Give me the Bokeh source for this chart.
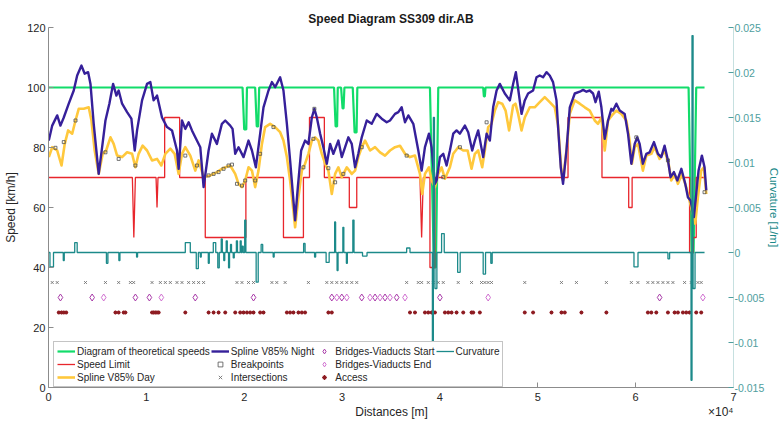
import numpy as np
from bokeh.plotting import figure
from bokeh.models import (Range1d, LinearAxis, FixedTicker, CustomJSTickFormatter,
                          Legend, LegendItem, Title)
from bokeh.embed import file_html
from bokeh.resources import INLINE

# ---------------- data (distances in metres, speeds in km/h) ----------------
night_x = [30, 380, 890, 1220, 1560, 2070, 2580, 2930, 3370, 3700, 4050, 4290, 4620, 5130, 5480, 5820,
           6220, 6600, 6940, 7170, 7520, 8030, 8470, 8810, 9050, 9560, 10070, 10410, 10740, 11090, 11600,
           12110, 12620, 13130, 13300, 13640, 13980, 14320, 14660, 15000, 15510, 15850, 16360, 16700, 17210,
           17720, 18060, 18570, 18810, 19080, 19420, 19930, 20440, 20790, 21190, 21630, 21970, 22480, 22830,
           23160, 23670, 24010, 24360, 24690, 25030, 25200, 25480, 25820, 26220, 26560, 26910, 27170, 27420,
           27760, 28090, 28440, 28780, 29110, 29620, 29970, 30310, 30640, 30990, 31330, 31660, 32010, 32520,
           33030, 33540, 34050, 34560, 34900, 35410, 35750, 36090, 36430, 36770, 37280, 37790, 38130, 38470,
           38880, 39150, 39490, 39660, 40000, 40340, 40680, 41020, 41360, 41700, 42040, 42550, 42890, 43300,
           43570, 43910, 44420, 44770, 45100, 45440, 45790, 46120, 46630, 47140, 47480, 47760, 48060, 48340,
           48670, 49010, 49520, 49870, 50200, 50540, 50890, 51220, 51560, 51910, 52070, 52350, 52580, 52930,
           53270, 53780, 54290, 54630, 54970, 55310, 55650, 55900, 56230, 56500, 56840, 57180, 57520, 57690,
           58030, 58370, 58880, 59220, 59560, 59900, 60170, 60410, 60740, 61090, 61430, 61870, 62280, 62620,
           62960, 63300, 63570, 63910, 64260, 64670, 65070, 65340, 65610, 65950, 66190, 66430, 66770, 67040,
           67220]
night_v = [82.3, 87.3, 90.7, 87.3, 90, 94.6, 99, 104, 107.3, 104.6, 105.1, 101.2, 87.9, 71.2, 80.1, 89,
           94.6, 101.2, 97.3, 99, 94.6, 91.8, 89.6, 79, 85.7, 95.7, 101.2, 101.8, 95.7, 97.3, 90,
           86.8, 85.7, 79, 72.9, 89, 86.2, 88.4, 85.7, 83.4, 80.1, 66.8, 79, 84.6, 81.2,
           87.9, 89, 87.3, 86.2, 77.9, 80.1, 76.8, 82.3, 79, 73.4, 84.6, 93.4, 99, 101.8,
           100.1, 103.4, 99, 87.9, 75.7, 62.3, 55.7, 66.8, 79, 82.3, 81.2, 90, 92.9, 90,
           84.6, 80.1, 74.6, 81.2, 77.9, 82.3, 76.8, 80.1, 83.4, 81.2, 73.4, 77.9, 83.4, 89,
           87.9, 91.2, 89.6, 88.4, 89, 91.2, 91.8, 93.4, 88.4, 90.7, 87.9, 79, 72.3, 80.1,
           84.6, 80.1, 67.9, 69, 76.8, 77.9, 74, 79, 84.6, 85.7, 84.6, 87.3, 85.1, 79,
           82.3, 85.7, 76.8, 84.6, 82.3, 93.4, 99, 101.2, 98, 95.7, 101.2, 105.1, 98, 91.2,
           95.7, 98, 99, 103.4, 104, 103.4, 105.1, 104, 101.8, 95.7, 87, 73.4, 67.9, 79,
           93.4, 98, 98.6, 99.2, 98.6, 99, 98, 95.1, 98.6, 93.4, 82.9, 89, 92.9, 92.3,
           94.6, 92.3, 91.2, 84.6, 74.6, 81.2, 83.4, 81.2, 74.6, 77.9, 78.4, 81.8, 77.9, 76.8,
           80.6, 75.7, 70.1, 71.8, 69, 72.9, 67.9, 63.4, 62.3, 56.8, 64.5, 72.3, 77.3, 73.4,
           65.7]

day_x = [30, 380, 890, 1330, 1660, 2010, 2420, 2760, 3090, 3600, 4110, 4390, 4720, 5130, 5540, 5890,
         6330, 6660, 7010, 7520, 8030, 8540, 8880, 9210, 9620, 10070, 10580, 11090, 11530, 11940, 12450,
         12890, 13300, 13640, 13980, 14490, 15000, 15340, 15850, 16530, 17210, 17720, 18570, 19080, 19420,
         19770, 20100, 20440, 20790, 21120, 21460, 21810, 22140, 22650, 23160, 23670, 24010, 24360, 24690,
         25030, 25200, 25540, 25890, 26220, 26560, 26910, 27250, 27580, 27930, 28270, 28600, 28950, 29290,
         29620, 29970, 30480, 30990, 31330, 31660, 32010, 32350, 32860, 33370, 33880, 34390, 34900, 35410,
         35920, 36430, 36940, 37450, 37960, 38190, 38470, 38880, 39150, 39490, 39830, 40170, 40510, 41020,
         41360, 41870, 42380, 42830, 43230, 43570, 43910, 44320, 44590, 44930, 45270, 45610, 45950, 46360,
         46710, 47070, 47480, 47720, 47990, 48340, 48670, 49180, 49690, 50200, 50710, 51220, 51730, 52070,
         52410, 52580, 52930, 53270, 53780, 54290, 54800, 55310, 55820, 56150, 56500, 56840, 57180, 57580,
         58030, 58540, 59050, 59390, 59620, 59900, 60240, 60740, 61090, 61600, 61940, 62450, 62960, 63370,
         63640, 63980, 64320, 64730, 65170, 65510, 65850, 66090, 66360, 66700, 66970, 67220]
day_v = [76.8, 80.1, 79, 74, 81.2, 85.7, 84.6, 89, 92.9, 92.9, 93.4, 89, 79, 71.2, 77.9, 79,
         83.4, 81.2, 77.3, 76.8, 78.4, 77.9, 73.4, 77.9, 80.6, 79, 75.7, 76.2, 74, 77.9, 79.6,
         77.9, 71.2, 77.9, 80.1, 77.3, 72.3, 75.7, 70.1, 70.7, 71.8, 72.9, 74, 71.2, 67.9,
         66.8, 69, 73.4, 72.3, 66.8, 72.3, 81.2, 86.8, 87.9, 86.8, 85.1, 82.3, 76.8, 69,
         59, 53.4, 63.4, 72.3, 74.6, 77.9, 82.3, 83.4, 82.3, 77.9, 74.6, 72.3, 64.5, 71.2,
         73.4, 70.1, 73.4, 71.2, 72.3, 76.8, 80.1, 82.3, 79, 80.1, 78.4, 77.3, 79, 80.1,
         80.6, 77.9, 76.8, 77.3, 71.2, 64.5, 71.2, 73.4, 69, 66.8, 71.2, 73.4, 69.6, 73.4,
         77.9, 80.1, 79, 79, 72.9, 77.9, 79, 73.4, 79, 86.8, 87.9, 92.3, 95.1, 94.6,
         92.3, 85.7, 94, 94.6, 91.2, 85.7, 90, 93.4, 93.4, 95.1, 96.8, 95.1, 93.4, 87.4,
         72.3, 69, 79, 91.2, 95.7, 94.6, 93.4, 92.3, 89, 87.9, 90, 79, 89, 90.7,
         92.3, 91.2, 89, 82.3, 74.6, 80.1, 81.2, 72.3, 77.3, 77.9, 80.1, 76.2, 79, 74.6,
         69, 71.2, 67.9, 71.2, 66.8, 62.3, 57.9, 54.6, 63.4, 72.3, 73.4, 64.5]

limit_x = [0, 8570, 8720, 8880, 10990, 11090, 11190, 11870, 11870, 13400, 13400, 16020, 16020, 20170,
           20170, 24010, 24010, 26050, 26050, 26670, 26670, 28190, 28190, 30740, 30740, 31500, 31500,
           37960, 38130, 38300, 38980, 38980, 39490, 39490, 53090, 53090, 56560, 56560, 59290, 59290,
           59640, 59640, 65510, 65510, 65900, 65900, 66190, 66190, 67040]
limit_v = [70, 70, 50, 70, 70, 60, 70, 70, 90, 90, 70, 70, 50, 50,
           70, 70, 50, 50, 70, 70, 90, 90, 70, 70, 60, 60, 70,
           70, 50, 70, 70, 40, 40, 70, 70, 90, 90, 70, 70, 60,
           60, 70, 70, 45, 45, 50, 50, 70, 70]

theo_x = [0, 19830, 20000, 20210, 20280, 21120, 21280, 21430, 21530, 29180, 29340, 29490, 29560,
          29900, 30050, 30150, 30240, 31090, 31280, 31480, 31560, 38980, 39390, 39590, 39830,
          44420, 44490, 44590, 44660, 65410, 65720, 65920, 66190, 67040]
theo_v = [100, 100, 86, 86, 100, 100, 87, 87, 100, 100, 87, 87, 100,
          100, 93, 93, 100, 100, 85, 85, 100, 100, 40, 40, 100,
          100, 97, 97, 100, 100, 45, 45, 100, 100]

# curvature [1/m]: pulses (start, end, value) on a zero baseline
curv_start = [150, 1510, 2680, 5920, 7190, 9000, 13980, 15100, 15510, 16330, 16840, 17300, 17650, 17910,
              18160, 18400, 18600, 18880, 19200, 19590, 19790, 20050, 21220, 21730, 22960, 26070, 27190,
              28370, 29240, 29490, 30080, 30440, 31100, 32090, 36600, 39230, 39330, 39490, 40170, 41810,
              44420, 45200, 59830, 63300, 65660, 65760, 65870]
curv_end = [510, 1610, 2930, 6070, 7300, 9100, 14490, 15310, 15610, 16430, 17090, 17450, 17760, 18010,
            18270, 18500, 18700, 18980, 19310, 19690, 19900, 20170, 21430, 21890, 23060, 26220, 27300,
            28680, 29340, 29590, 30180, 30540, 31220, 32550, 36940, 39330, 39440, 39690, 40440, 42070,
            44660, 45340, 60240, 63470, 65760, 65870, 66070]
curv_val = [-0.0016, -0.0009, 0.0011, -0.0012, -0.0009, -0.0005, 0.0011, -0.0018, -0.0005, -0.0012, 0.0011,
            -0.0017, 0.0015, -0.0009, 0.0013, -0.0017, 0.0009, -0.0006, 0.0013, 0.0013, 0.0007, 0.0036,
            -0.0033, 0.0009, -0.0005, 0.0010, -0.0005, -0.0011, 0.0034, -0.0020, 0.0028, -0.0012, 0.0036,
            -0.0004, 0.0005, -0.0101, 0.0150, -0.0040, 0.0021, -0.0022, -0.0024, -0.0012, -0.0016, -0.0007,
            -0.0142, 0.0241, -0.0040]
road_end = 67040

break_x = [710, 1560, 2760, 5820, 7170, 8880, 13980, 15170, 16360, 16870, 17380, 17890, 18400, 18750,
           19260, 19770, 20100, 21120, 21630, 22990, 26050, 27070, 27170, 28600, 29290, 30130, 32010,
           36600, 40340, 42040, 44770, 60070, 63300, 67040]
break_v = [79.9, 81.8, 89, 78.4, 76.2, 74, 77.3, 74, 70.7, 71.2, 71.8, 72.9, 74, 74.3,
           67.9, 67.3, 69, 69, 77.9, 86.8, 73.4, 82.9, 92.9, 73.1, 68.4, 71.2, 80.1,
           77.3, 70.1, 80.1, 88.4, 83.4, 75.7, 65.1]

inters_x = [380, 890, 3780, 5820, 7170, 8370, 8700, 10580, 11430, 11940, 12450, 13130, 13640, 14320, 14830,
            15340, 15850, 19260, 19770, 20440, 20950, 22830, 23330, 24180, 26560, 28440, 28950, 29460, 29970,
            30480, 30990, 31500, 36600, 37790, 38130, 38810, 39320, 39830, 40340, 41870, 43230, 44250, 44590,
            44930, 45270, 48670, 52420, 53950, 57010, 59560, 60230, 61250, 61760, 62280, 62790, 63300, 63810,
            65000, 65680, 66360, 66700]
bridge_start_x = [1220, 4460, 8880, 10310, 15000, 20950, 28950, 29970, 32010, 33370, 34390, 35580, 40000,
                  62450]
bridge_end_x = [5640, 11530, 29460, 30480, 32860, 33880, 34900, 36430, 44930, 66870]
access_x = [1050, 1330, 1560, 1810, 6840, 7170, 7680, 7860, 10580, 10740, 10920, 11090, 11260, 13980, 16360,
            16870, 17380, 18060, 19080, 19590, 19930, 20280, 20610, 20950, 21630, 21970, 24360, 24690, 25030,
            25540, 25890, 26220, 28600, 28950, 36940, 37450, 38470, 38810, 39150, 39490, 40510, 40850, 41190,
            41700, 42380, 43230, 43400, 44080, 48670, 49520, 51400, 52420, 52760, 54460, 57010, 61250, 61600,
            62110, 63300, 63980, 64320, 64830, 65170, 65510, 66190, 66700]
inters_level = 35
bridge_level = 30
access_level = 25

x_ticks = [0, 10000, 20000, 30000, 40000, 50000, 60000, 70000]
speed_ticks = [0, 20, 40, 60, 80, 100, 120]
curv_ticks = [-0.015, -0.01, -0.005, 0, 0.005, 0.01, 0.015, 0.02, 0.025]

# ---------------- build curvature polyline from pulses ----------------
cx, cy = [0], [0.0]
for s, e, v in zip(curv_start, curv_end, curv_val):
    cx += [s, s, e, e]
    cy += [0.0, v, v, 0.0]
cx.append(road_end)
cy.append(0.0)

FONT = "Liberation Sans"
TXT = "#262626"
TEAL = "#1C8A8A"
TEAL_LIGHT = "#4E9E9E"
NBSP = "\u00a0"

p = figure(width=783, height=421, output_backend="svg", toolbar_location=None,
           x_range=Range1d(0, 70000), y_range=Range1d(0, 120),
           min_border_left=48, min_border_right=49, min_border_top=27, min_border_bottom=34,
           background_fill_color="white", border_fill_color="white")
p.outline_line_color = None
p.grid.visible = False

# title (centred over the frame)
p.title = Title(text="Speed Diagram SS309 dir.AB", align="center", text_font=FONT,
                text_font_size="12px", text_font_style="bold", text_color="#1a1a1a",
                standoff=4, offset=0)

xa = p.xaxis[0]
xa.ticker = FixedTicker(ticks=x_ticks, minor_ticks=[])
xa.formatter = CustomJSTickFormatter(code="return (tick/10000).toFixed(0);")
# axis label centred under the frame; the exponent note sits at the right end of the same line
xa.axis_label = NBSP * 92 + "Distances [m]" + NBSP * 84 + "×10⁴"
ya = p.yaxis[0]
ya.ticker = FixedTicker(ticks=speed_ticks, minor_ticks=[])
ya.axis_label = "Speed [km/h]"
for ax in (xa, ya):
    ax.axis_line_color = "#8c8c8c"
    ax.major_tick_line_color = "#8c8c8c"
    ax.major_tick_in = 5
    ax.major_tick_out = 0
    ax.minor_tick_line_color = None
    ax.major_label_text_font = FONT
    ax.major_label_text_font_size = "11px"
    ax.major_label_text_color = TXT
    ax.axis_label_text_font = FONT
    ax.axis_label_text_font_size = "12px"
    ax.axis_label_text_font_style = "normal"
    ax.axis_label_text_color = TXT
xa.major_label_standoff = 5
xa.axis_label_standoff = 1
ya.major_label_standoff = 3
ya.axis_label_standoff = 6

# right axis: curvature
p.extra_y_ranges = {"curv": Range1d(-0.015, 0.025)}
ra = LinearAxis(y_range_name="curv", axis_label="Curvature [1/m]",
                ticker=FixedTicker(ticks=curv_ticks, minor_ticks=[]),
                formatter=CustomJSTickFormatter(code="""
                    var s = tick.toFixed(3);
                    s = s.replace(/0+$/, '').replace(/\\.$/, '');
                    if (s === '-0') { s = '0'; }
                    return s;"""))
ra.axis_line_color = "#c6e0e0"
ra.major_tick_line_color = TEAL_LIGHT
ra.major_tick_in = 5
ra.major_tick_out = 0
ra.minor_tick_line_color = None
ra.major_label_text_font = FONT
ra.major_label_text_font_size = "10.5px"
ra.major_label_text_color = TEAL_LIGHT
ra.major_label_standoff = 1
ra.axis_label_text_font = FONT
ra.axis_label_text_font_size = "11.5px"
ra.axis_label_text_font_style = "normal"
ra.axis_label_text_color = TEAL
ra.axis_label_standoff = 1
p.add_layout(ra, "right")

# ---------------- glyphs ----------------
r_theo = p.line(theo_x, theo_v, line_color="#12DC6A", line_width=2.2)
r_lim = p.line(limit_x, limit_v, line_color="#E8262C", line_width=1.3)
r_day = p.line(day_x, day_v, line_color="#FFC83C", line_width=2.6, line_join="round")
r_night = p.line(night_x, night_v, line_color="#36209A", line_width=2.4, line_join="round")
r_break = p.scatter(break_x, break_v, marker="square", size=3, fill_color=None,
                    line_color="#505050", line_width=0.8)
r_int = p.scatter(inters_x, [inters_level] * len(inters_x), marker="x", size=4,
                  line_color="#707070", line_width=0.9)
r_bs = p.scatter(bridge_start_x, [bridge_level] * len(bridge_start_x), marker="diamond", size=7,
                 fill_color=None, line_color="#A83AA8", line_width=1.0)
r_be = p.scatter(bridge_end_x, [bridge_level] * len(bridge_end_x), marker="diamond", size=7,
                 fill_color=None, line_color="#D070D0", line_width=1.0)
r_acc = p.scatter(access_x, [access_level] * len(access_x), marker="asterisk", size=4,
                  line_color="#8E1C22", line_width=1.2)
r_curv = p.line(cx, cy, y_range_name="curv", line_color=TEAL, line_width=1.3)

legend = Legend(items=[
    LegendItem(label="Diagram of theoretical speeds", renderers=[r_theo]),
    LegendItem(label="Speed Limit", renderers=[r_lim]),
    LegendItem(label="Spline V85% Day", renderers=[r_day]),
    LegendItem(label="Spline V85% Night", renderers=[r_night]),
    LegendItem(label="Breakpoints", renderers=[r_break]),
    LegendItem(label="Intersections", renderers=[r_int]),
    LegendItem(label="Bridges-Viaducts Start", renderers=[r_bs]),
    LegendItem(label="Bridges-Viaducts End", renderers=[r_be]),
    LegendItem(label="Access", renderers=[r_acc]),
    LegendItem(label="Curvature", renderers=[r_curv]),
], location=(5, 0), orientation="vertical", nrows=3)
legend.label_text_font = FONT
legend.label_text_font_size = "10px"
legend.label_text_color = TXT
legend.glyph_width = 18
legend.glyph_height = 12
legend.label_height = 12
legend.label_standoff = 2
legend.spacing = 1
legend.padding = 3
legend.margin = 0
legend.border_line_color = "#8a8a8a"
legend.border_line_width = 0.8
legend.background_fill_color = "white"
legend.background_fill_alpha = 1.0
p.add_layout(legend, "center")

open("out.html", "w").write(file_html(p, INLINE))
